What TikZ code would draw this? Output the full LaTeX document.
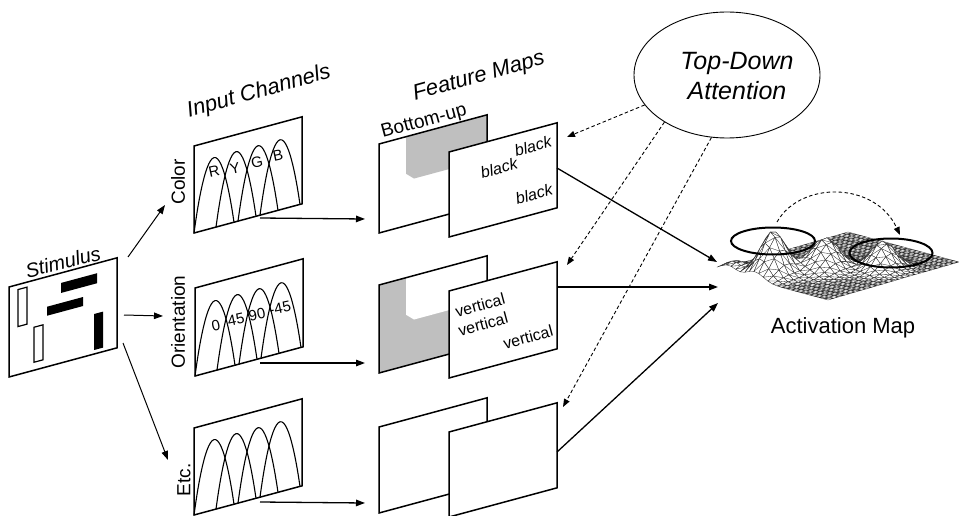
\documentclass[tikz,border=0pt]{standalone}
\usepackage{fontspec}
\setmainfont{Liberation Sans}
\usetikzlibrary{arrows.meta,shapes.geometric}
\begin{document}
\begin{tikzpicture}[x=1pt,y=-1pt,
  pan/.style={draw=black,line width=1.5pt,fill=white,line join=miter},
  panb/.style={draw=black,line width=1.5pt,line join=miter},
  arr/.style={-{Triangle[length=9pt,width=6.5pt]},line width=1.3pt},
  darr/.style={-{Triangle[length=8pt,width=6pt]},line width=0.9pt,dash pattern=on 3.5pt off 2.5pt},
  arch/.style={line width=1.1pt},
  lab/.style={font=\fontsize{19}{22}\selectfont,inner sep=0pt},
  ttl/.style={font=\fontsize{22}{26}\selectfont\itshape,inner sep=0pt},
  small/.style={font=\fontsize{15}{18}\selectfont,inner sep=0pt,rotate=12},
  word/.style={font=\fontsize{16}{19}\selectfont,inner sep=0pt,rotate=15},
  mesh/.style={draw=black!85,fill=white,line width=0.32pt,line join=round},
  ring/.style={draw=black,line width=2pt,ellipse,inner sep=0pt},
  declare function={
    zz(\u,\v)=44*exp(-((\u-0.34)*(\u-0.34)+(\v-0.14)*(\v-0.14))/0.012)
             +32*exp(-((\u-0.5)*(\u-0.5)+(\v-0.4)*(\v-0.4))/0.015)
             +28*exp(-((\u-0.76)*(\u-0.76)+(\v-0.62)*(\v-0.62))/0.012)
             +10*exp(-((\u-0.1)*(\u-0.1)+(\v-0.05)*(\v-0.05))/0.01);
    mx(\u,\v)=717+111*\u+131*\v;
    my(\u,\v)=270+30*\u-38*\v-zz(\u,\v);}]
\useasboundingbox (0,0) rectangle (959,516);

% ---------- Stimulus ----------
\begin{scope}[shift={(9,377)},yslant=0.27]
  \draw[pan] (0,0) -- (108,0) -- (108,-90) -- (0,-90) -- cycle;
  \draw[line width=1.2pt] (9,-85) -- (18,-85) -- (18,-48) -- (9,-48) -- cycle;
  \draw[line width=1.2pt] (25,-43) -- (34,-43) -- (34,-8) -- (25,-8) -- cycle;
  \fill (52,-80) -- (88,-80) -- (88,-70) -- (52,-70) -- cycle;
  \fill (38,-60) -- (74,-60) -- (74,-51) -- (38,-51) -- cycle;
  \fill (85,-40) -- (94,-40) -- (94,-4) -- (85,-4) -- cycle;
\end{scope}
\node[ttl,font=\fontsize{20}{24}\selectfont\itshape,rotate=14] (stim) at (63,262) {Stimulus};

% ---------- Input channels ----------
\node[ttl,rotate=15.5] (ich) at (259,92) {Input Channels};
\begin{scope}[shift={(194,233)},yslant=0.27]
  \draw[pan] (0,0) -- (108,0) -- (108,-87) -- (0,-87) -- cycle;
  \foreach \s in {0,22,44,66}
    \draw[arch] (\s,0) parabola bend (\s+20,-70) (\s+40,0);
  \node[small] (tR) at (20,-56) {R};
  \node[small] (tY) at (41,-54) {Y};
  \node[small] (tG) at (63,-54) {G};
  \node[small] (tB) at (84,-55) {B};
\end{scope}
\begin{scope}[shift={(195,376)},yslant=0.27]
  \draw[pan] (0,0) -- (108,0) -- (108,-88) -- (0,-88) -- cycle;
  \foreach \s in {0,22,44,66}
    \draw[arch] (\s,0) parabola bend (\s+20,-70) (\s+40,0);
  \node[small] (t0) at (21,-45) {0};
  \node[small] (t45) at (41,-45) {45};
  \node[small] (t90) at (62,-45) {90};
  \node[small] (tm45) at (85,-45) {-45};
\end{scope}
\begin{scope}[shift={(194,515)},yslant=0.27]
  \draw[pan] (0,0) -- (108,0) -- (108,-87) -- (0,-87) -- cycle;
  \foreach \s in {0,22,44,66}
    \draw[arch] (\s,0) parabola bend (\s+20,-70) (\s+40,0);
\end{scope}
\node[lab,rotate=90] (lC) at (178,182) {Color};
\node[lab,rotate=90] (lO) at (178,322) {Orientation};
\node[lab,rotate=90] (lE) at (184,480) {Etc.};

% ---------- Feature maps ----------
\node[ttl,rotate=15.5] (fmt) at (479,77) {Feature Maps};
\node[lab,rotate=15] (bu) at (424,122) {Bottom-up};
% colour row
\begin{scope}[shift={(379,233)},yslant=0.27]
  \fill[white] (0,0) -- (108,0) -- (108,-89) -- (0,-89) -- cycle;
  \fill[gray!50] (27,-89) -- (27,-52) -- (35,-45) -- (108,-45) -- (108,-89) -- cycle;
  \draw[panb] (0,0) -- (108,0) -- (108,-89) -- (0,-89) -- cycle;
\end{scope}
\begin{scope}[shift={(449,237)},yslant=0.27]
  \draw[pan] (0,0) -- (108,0) -- (108,-85) -- (0,-85) -- cycle;
\end{scope}
\node[word,font=\fontsize{16}{19}\selectfont\itshape] (b1) at (533,146) {black};
\node[word,font=\fontsize{16}{19}\selectfont\itshape] (b2) at (499,168) {black};
\node[word,font=\fontsize{16}{19}\selectfont\itshape] (b3) at (534,194) {black};
% orientation row
\begin{scope}[shift={(379,373)},yslant=0.27]
  \fill[gray!50] (0,0) -- (108,0) -- (108,-88) -- (0,-88) -- cycle;
  \fill[white] (27,-88) -- (27,-51) -- (35,-44) -- (108,-44) -- (108,-88) -- cycle;
  \draw[panb] (0,0) -- (108,0) -- (108,-88) -- (0,-88) -- cycle;
\end{scope}
\begin{scope}[shift={(449,378)},yslant=0.27]
  \draw[pan] (0,0) -- (108,0) -- (108,-87) -- (0,-87) -- cycle;
\end{scope}
\node[word] (v1) at (480,305) {vertical};
\node[word] (v2) at (483,324) {vertical};
\node[word] (v3) at (528,337) {vertical};
% etc row
\begin{scope}[shift={(379,513)},yslant=0.27]
  \draw[pan] (0,0) -- (108,0) -- (108,-86) -- (0,-86) -- cycle;
\end{scope}
\begin{scope}[shift={(449,517)},yslant=0.27]
  \draw[pan] (0,0) -- (108,0) -- (108,-85) -- (0,-85) -- cycle;
\end{scope}

% ---------- Top-down attention ----------
\node[draw,ellipse,line width=0.9pt,minimum width=186pt,minimum height=126pt,inner sep=0pt] (td) at (727,75) {};
\node[font=\fontsize{25}{30}\selectfont\itshape,align=center,inner sep=0pt] (tdt) at (737,76) {Top-Down\\Attention};

% ---------- Activation map surface ----------
\foreach \j in {23,...,0}{
  \foreach \i in {0,...,23}{
    \pgfmathsetmacro\ua{\i/24}
    \pgfmathsetmacro\ub{(\i+1)/24}
    \pgfmathsetmacro\va{\j/24}
    \pgfmathsetmacro\vb{(\j+1)/24}
    \filldraw[mesh] ({mx(\ua,\va)},{my(\ua,\va)}) -- ({mx(\ub,\va)},{my(\ub,\va)})
      -- ({mx(\ub,\vb)},{my(\ub,\vb)}) -- ({mx(\ua,\vb)},{my(\ua,\vb)}) -- cycle
      ({mx(\ua,\va)},{my(\ua,\va)}) -- ({mx(\ub,\vb)},{my(\ub,\vb)});
  }
}
\node[ring,minimum width=84pt,minimum height=27pt] (r1) at (773,241) {};
\node[ring,minimum width=83pt,minimum height=29pt] (r2) at (891,253) {};
\node[font=\fontsize{22}{26}\selectfont,inner sep=0pt] (am) at (843,328) {Activation Map};

% ---------- coordinates ----------
\coordinate (sC) at (128,257); \coordinate (eC) at (165,205);
\coordinate (sO) at (124,315); \coordinate (eO) at (163,316);
\coordinate (sE) at (123,343); \coordinate (eE) at (168,460);
\coordinate (iC) at (260,218); \coordinate (fC) at (365,219);
\coordinate (iO) at (260,363); \coordinate (fO) at (365,363);
\coordinate (iE) at (260,502); \coordinate (fE) at (365,503);
\coordinate (mC) at (557,168); \coordinate (aC) at (717,262);
\coordinate (mO) at (557,287); \coordinate (aO) at (718,287);
\coordinate (mE) at (557,452); \coordinate (aE) at (718,303);
\coordinate (dC) at (567,137);
\coordinate (dO) at (567,265);
\coordinate (dE) at (563,407);
\coordinate (p1) at (777,222); \coordinate (p2) at (900,235);

% ---------- connectors ----------
\draw[arr,line width=1pt] (sC) -- (eC);
\draw[arr,line width=1pt] (sO) -- (eO);
\draw[arr,line width=1pt] (sE) -- (eE);
\draw[arr] (iC) -- (fC);
\draw[arr] (iO) -- (fO);
\draw[arr] (iE) -- (fE);
\draw[arr] (mC) -- (aC);
\draw[arr] (mO) -- (aO);
\draw[arr] (mE) -- (aE);
\draw[darr] (td.200) -- (dC);
\draw[darr] (td.217) -- (dO);
\draw[darr] (td.256) -- (dE);
\draw[darr] (p1) .. controls (800,181) and (875,181) .. (p2);
\end{tikzpicture}
\end{document}
